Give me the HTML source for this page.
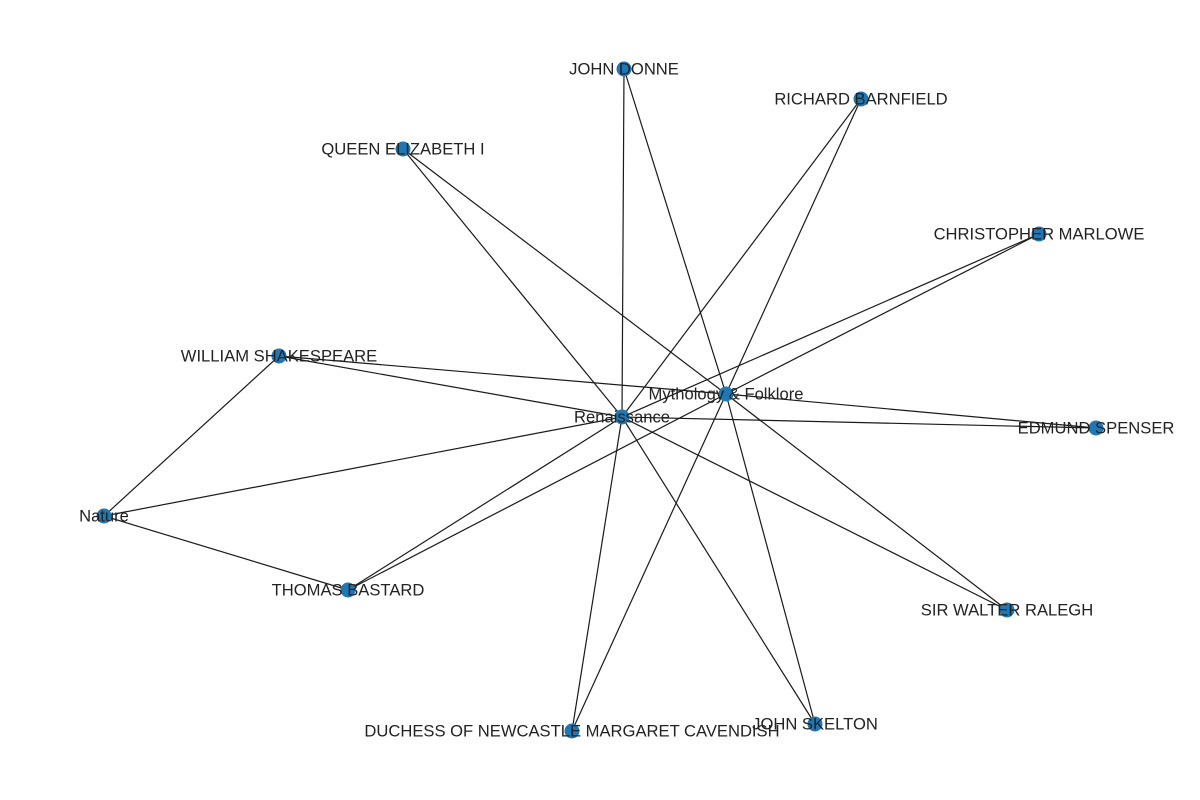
<!DOCTYPE html>
<html><head><meta charset="utf-8">
<style>
html,body{margin:0;padding:0;background:#fff;}
svg{display:block;}
text{font-family:"Liberation Sans",sans-serif;font-size:16.6px;fill:#222;}
</style></head>
<body>
<svg id="chart" width="1200" height="800"></svg>
<script>
const nodeNames = ["JOHN DONNE","RICHARD BARNFIELD","QUEEN ELIZABETH I","CHRISTOPHER MARLOWE","WILLIAM SHAKESPEARE","Mythology & Folklore","Renaissance","EDMUND SPENSER","Nature","THOMAS BASTARD","SIR WALTER RALEGH","JOHN SKELTON","DUCHESS OF NEWCASTLE MARGARET CAVENDISH"];
const nodeX = [624,861,403,1039,279,726,622,1096,104,348,1007,815,572];
const nodeY = [69,99,149,234,356,394,417,428,516,590,610,724,731];
const edgeFrom = ["Renaissance","Renaissance","Renaissance","Renaissance","Renaissance","Renaissance","Renaissance","Renaissance","Renaissance","Renaissance","Renaissance",
  "Mythology & Folklore","Mythology & Folklore","Mythology & Folklore","Mythology & Folklore","Mythology & Folklore","Mythology & Folklore","Mythology & Folklore","Mythology & Folklore","Mythology & Folklore","Mythology & Folklore",
  "Nature","Nature"];
const edgeTo = ["JOHN DONNE","RICHARD BARNFIELD","QUEEN ELIZABETH I","CHRISTOPHER MARLOWE","WILLIAM SHAKESPEARE","EDMUND SPENSER","Nature","THOMAS BASTARD","SIR WALTER RALEGH","JOHN SKELTON","DUCHESS OF NEWCASTLE MARGARET CAVENDISH",
  "JOHN DONNE","RICHARD BARNFIELD","QUEEN ELIZABETH I","CHRISTOPHER MARLOWE","WILLIAM SHAKESPEARE","EDMUND SPENSER","THOMAS BASTARD","SIR WALTER RALEGH","JOHN SKELTON","DUCHESS OF NEWCASTLE MARGARET CAVENDISH",
  "WILLIAM SHAKESPEARE","THOMAS BASTARD"];

const NS="http://www.w3.org/2000/svg";
const svg=document.getElementById('chart');
function pos(n){const i=nodeNames.indexOf(n);return [nodeX[i],nodeY[i]];}
function slug(s){return s.toLowerCase().replace(/[^a-z0-9]+/g,'-').replace(/^-|-$/g,'');}
const gE=document.createElementNS(NS,'g');


svg.appendChild(gE);
for(let k=0;k<edgeFrom.length;k++){
  const a=pos(edgeFrom[k]),b=pos(edgeTo[k]);
  const l=document.createElementNS(NS,'line');
  l.setAttribute('x1',a[0]);l.setAttribute('y1',a[1]);l.setAttribute('x2',b[0]);l.setAttribute('y2',b[1]);
  l.setAttribute('stroke','#1a1a1a');l.setAttribute('stroke-width','1.2');
  
  
  gE.appendChild(l);
}
const gN=document.createElementNS(NS,'g');


svg.appendChild(gN);
for(let i=0;i<nodeNames.length;i++){
  const c=document.createElementNS(NS,'circle');
  c.setAttribute('cx',nodeX[i]);c.setAttribute('cy',nodeY[i]);c.setAttribute('r',7.5);
  c.setAttribute('fill','#1f77b4');
  
  
  gN.appendChild(c);
}
const gL=document.createElementNS(NS,'g');


svg.appendChild(gL);
for(let i=0;i<nodeNames.length;i++){
  const t=document.createElementNS(NS,'text');
  t.setAttribute('x',nodeX[i]);t.setAttribute('y',nodeY[i]+5.5);
  t.setAttribute('text-anchor','middle');
  t.textContent=nodeNames[i];
  
  
  gL.appendChild(t);
}
</script>
</body></html>
